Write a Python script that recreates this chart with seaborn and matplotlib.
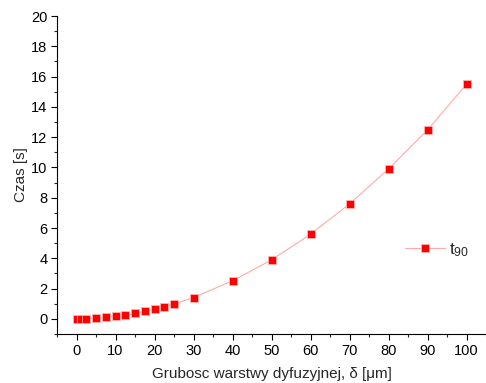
import matplotlib
matplotlib.use("Agg")
import matplotlib.pyplot as plt
from matplotlib.ticker import MultipleLocator
import seaborn as sns
import pandas as pd

# diffusion layer thickness [um] and response time t90 [s]
thickness = [0, 1.25, 2.5, 5, 7.5, 10, 12.5, 15, 17.5, 20, 22.5, 25,
             30, 40, 50, 60, 70, 80, 90, 100]
t90 = [0.0, 0.01, 0.02, 0.05, 0.10, 0.17, 0.25, 0.36, 0.49, 0.64, 0.80, 0.97,
       1.41, 2.51, 3.89, 5.59, 7.59, 9.90, 12.47, 15.49]

series_label = "t$_{90}$"
x_label = "Grubosc warstwy dyfuzyjnej, δ [μm]"
y_label = "Czas [s]"

sns.set_style("ticks")
plt.rcParams["font.family"] = ["Liberation Sans", "DejaVu Sans"]
plt.rcParams["mathtext.fontset"] = "custom"
plt.rcParams["mathtext.rm"] = "Liberation Sans"
plt.rcParams["mathtext.it"] = "Liberation Sans"

df = pd.DataFrame({"x": thickness, "y": t90})

fig = plt.figure(figsize=(4.86, 3.83), dpi=100)
ax = fig.add_axes([0.1173, 0.1279, 0.8827, 0.8303])

sns.lineplot(data=df, x="x", y="y", ax=ax, color="#ffaaaa", linewidth=0.8,
             marker="s", markersize=5.2, markerfacecolor="#ff0000",
             markeredgecolor="#ffbbbb", markeredgewidth=0.5, label=series_label)

ax.set_xlim(-5, 105)
ax.set_ylim(-1, 20)
ax.xaxis.set_major_locator(MultipleLocator(10))
ax.xaxis.set_minor_locator(MultipleLocator(5))
ax.yaxis.set_major_locator(MultipleLocator(2))
ax.yaxis.set_minor_locator(MultipleLocator(1))

for side in ("top", "right"):
    ax.spines[side].set_visible(False)
for side in ("left", "bottom"):
    ax.spines[side].set_linewidth(0.8)
    ax.spines[side].set_color("black")

ax.tick_params(which="major", direction="out", length=4.5, width=0.8,
               labelsize=10.5, pad=2.5, colors="black")
ax.tick_params(which="minor", direction="out", length=2.5, width=0.8)

ax.set_xlabel(x_label, fontsize=11, labelpad=7)
ax.set_ylabel(y_label, fontsize=11, labelpad=2)

leg = ax.legend(loc="center left", bbox_to_anchor=(0.79, 0.265), frameon=False,
                fontsize=12.5, handlelength=2.3, handletextpad=0.25, borderpad=0)

fig.savefig("out.png", dpi=100)
